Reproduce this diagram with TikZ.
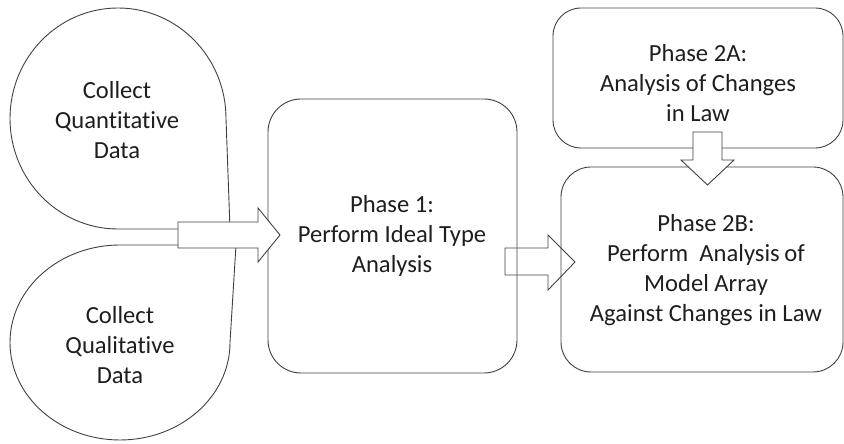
\documentclass[tikz,border=0pt]{standalone}
\usepackage{fontspec}
\setmainfont[RawFeature=-liga]{Carlito}
\definecolor{edge}{HTML}{404040}
\definecolor{ink}{HTML}{1E1E1E}
\begin{document}
\begin{tikzpicture}[x=1pt,y=1pt,
  outline/.style={draw=edge,line width=0.9pt,line join=round},
  blockarrow/.style={outline,fill=white,line join=miter},
  label/.style={text=ink,align=center,font=\fontsize{24.6}{30}\selectfont,inner sep=0pt}]
\useasboundingbox (0,0) rectangle (844,444);
% arrow from phase 1 to phase 2B (behind the boxes, outline only)
\draw[outline,line join=miter] (505,169) -- (548,169) -- (548,154) -- (575,182) -- (548,209) -- (548,196) -- (505,196) -- cycle;
% teardrops
\draw[outline] (118,215) arc[start angle=-90,end angle=-360,x radius=108,y radius=110.5] -- (230,215) -- cycle;
\draw[outline] (120,199) arc[start angle=90,end angle=360,x radius=110,y radius=97.5] -- (236,199) -- cycle;
\node[label] (quant) at (117,324) {Collect\\Quantitative\\Data};
\node[label] (qual) at (120,99) {Collect\\Qualitative\\Data};
% boxes
\node[outline,rectangle,rounded corners=33pt,minimum width=249pt,minimum height=274pt,inner sep=0pt] (p1) at (392.5,208) {};
\node[outline,rectangle,rounded corners=28pt,minimum width=290pt,minimum height=140pt,inner sep=0pt] (p2a) at (698,366) {};
\node[outline,rectangle,rounded corners=30pt,minimum width=282pt,minimum height=205pt,inner sep=0pt] (p2b) at (702,174.5) {};
\node[label] (t1) at (392,208) {Phase 1:\\Perform Ideal Type\\Analysis};
\node[label] (t2a) at (698,361) {Phase 2A:\\Analysis of Changes\\in Law};
\node[label] (t2b) at (706,174) {Phase 2B:\\Perform\ \ Analysis\hspace{-1pt} of\\Model Array\\Against Changes in Law};
% block arrows on top
\draw[blockarrow] (178,196) -- (258,196) -- (258,182) -- (280,209) -- (258,236) -- (258,222) -- (178,222) -- cycle;
\draw[blockarrow] (693,312) -- (693,284) -- (681,284) -- (707.5,259) -- (734,284) -- (722,284) -- (722,312) -- cycle;
\end{tikzpicture}
\end{document}
